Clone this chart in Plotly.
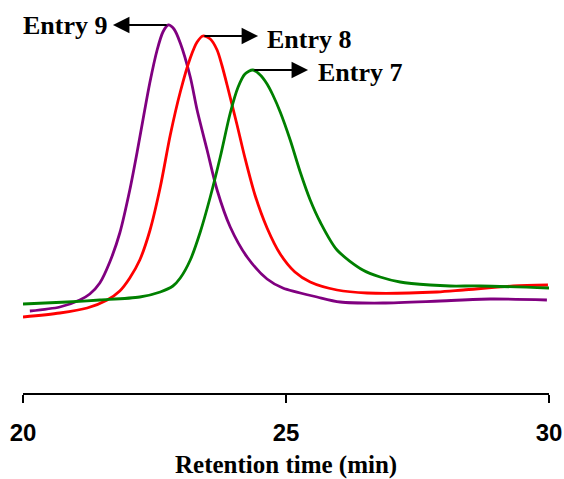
import plotly.graph_objects as go

# Retention time (min) and detector signal (arbitrary units)
entry9_t = [20.13, 20.70, 21.08, 21.27, 21.46, 21.65, 21.84, 22.03, 22.17, 22.28, 22.41, 22.55,
            22.66, 22.76, 22.87, 22.99, 23.18, 23.31, 23.50, 23.69, 23.94, 24.26, 24.64, 24.94,
            25.59, 26.03, 26.84, 27.93, 28.88, 29.96]
entry9_s = [82, 86, 93, 99, 110, 131, 160, 203, 241, 273, 310, 343,
            361, 368, 364, 350, 316, 283, 243, 203, 166, 136, 114, 105,
            96, 91, 90, 92, 94, 93]

entry8_t = [20.00, 20.70, 21.22, 21.60, 21.84, 22.03, 22.22, 22.41, 22.61, 22.80, 22.99, 23.18,
            23.31, 23.42, 23.56, 23.69, 23.78, 23.88, 24.07, 24.22, 24.41, 24.64, 24.89, 25.17,
            25.46, 25.97, 26.54, 27.87, 28.37, 29.32, 29.98]
entry8_s = [76, 80, 85, 93, 102, 115, 133, 162, 206, 258, 301, 335,
            351, 357, 354, 343, 328, 308, 268, 235, 198, 165, 139, 121,
            111, 103, 100, 101, 103, 107, 108]

entry7_t = [20.00, 20.84, 21.46, 22.22, 22.61, 22.85, 22.99, 23.18, 23.37, 23.56, 23.75, 23.94,
            24.09, 24.22, 24.37, 24.51, 24.64, 24.75, 24.89, 25.08, 25.27, 25.46, 25.65, 25.97,
            26.46, 26.79, 27.17, 27.74, 28.12, 28.69, 30.00]
entry7_s = [89, 91, 93, 96, 101, 107, 115, 133, 161, 196, 236, 280,
            306, 319, 323, 318, 309, 298, 281, 253, 221, 193, 171, 143,
            123, 116, 111, 108, 107, 107, 105]

x_ticks = [20, 25, 30]
x_tick_labels = ["20", "25", "30"]

series = [
    ("Entry 9", entry9_t, entry9_s, "#800080"),
    ("Entry 8", entry8_t, entry8_s, "#FF0000"),
    ("Entry 7", entry7_t, entry7_s, "#008000"),
]

fig = go.Figure()
for name, t, s, c in series:
    fig.add_trace(go.Scatter(x=t, y=s, mode="lines", name=name,
                             line=dict(color=c, width=2.8, shape="spline", smoothing=0.8)))

serif = "Liberation Serif, Times New Roman, serif"

# arrows (head, tail) and labels
arrows = [
    (21.71, 368, 22.76, 368),
    (24.47, 357, 23.42, 357),
    (25.42, 323, 24.37, 323),
]
for hx, hy, tx, ty in arrows:
    fig.add_annotation(x=hx, y=hy, ax=tx, ay=ty, xref="x", yref="y", axref="x", ayref="y",
                       text="", showarrow=True, arrowhead=2, arrowsize=1.5, arrowwidth=2.2,
                       arrowcolor="black", standoff=0, startstandoff=0)

labels = [
    ("Entry 9", 21.66, 368, "right"),
    ("Entry 8", 24.60, 354, "left"),
    ("Entry 7", 25.57, 321, "left"),
]
for txt, x, y, anchor in labels:
    fig.add_annotation(x=x, y=y, xref="x", yref="y", text="<b>%s</b>" % txt, showarrow=False,
                       xanchor=anchor, yanchor="middle",
                       font=dict(family=serif, size=26, color="black"))

fig.add_annotation(x=0.5, y=-72 / 383, xref="paper", yref="paper",
                   text="<b>Retention time (min)</b>", showarrow=False,
                   xanchor="center", yanchor="middle",
                   font=dict(family=serif, size=25, color="black"))

fig.update_layout(
    width=564, height=479,
    margin=dict(l=23, r=15, t=10, b=86),
    paper_bgcolor="white", plot_bgcolor="white",
    showlegend=False,
    xaxis=dict(range=[20, 30], tickvals=x_ticks, ticktext=["<b>%s</b>" % v for v in x_tick_labels],
               showline=True, linecolor="black", linewidth=2, ticks="outside", ticklen=8,
               tickwidth=2, tickcolor="black", showgrid=False, zeroline=False,
               automargin=False, ticklabeloverflow="allow", ticklabelstandoff=9,
               tickfont=dict(family="Liberation Sans, Arial, sans-serif", size=24, color="black")),
    yaxis=dict(range=[0, 383], visible=False, showgrid=False, zeroline=False, automargin=False),
)

fig.write_html("out.html", config={"displayModeBar": False},
               post_script="document.body.style.margin='0px';")
